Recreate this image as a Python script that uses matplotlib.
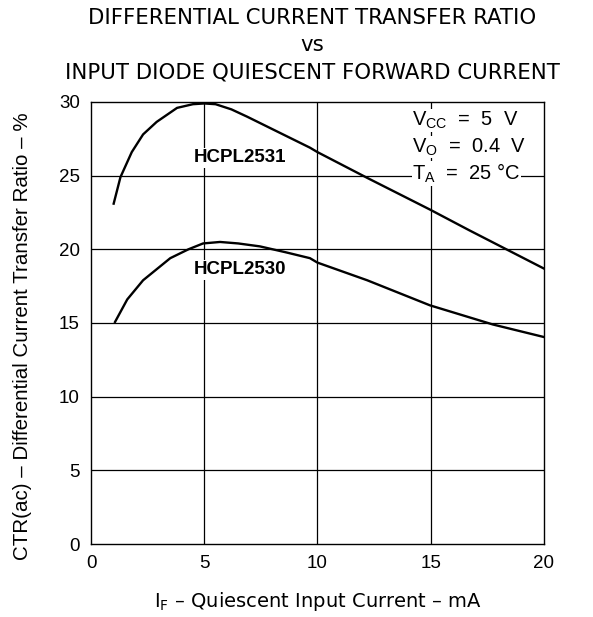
import matplotlib.pyplot as plt

plt.rcParams['font.family'] = ['Liberation Sans', 'DejaVu Sans']

# HCPL2531 curve points (IF in mA, CTR in %)
if_2531 = [1.0, 1.3, 1.8, 2.3, 2.9, 3.8, 4.5, 5.0, 5.5, 6.2, 6.9, 8.35, 9.67, 10.0, 12.2, 14.97, 16.7, 18.4, 20.0]
ctr_2531 = [23.1, 24.9, 26.6, 27.8, 28.65, 29.6, 29.85, 29.9, 29.85, 29.5, 29.0, 27.9, 26.9, 26.6, 24.85, 22.7, 21.3, 19.96, 18.7]

# HCPL2530 curve points
if_2530 = [1.06, 1.6, 2.3, 3.5, 4.3, 4.95, 5.7, 6.5, 7.46, 8.6, 9.67, 10.0, 12.2, 14.97, 17.75, 20.0]
ctr_2530 = [15.07, 16.6, 17.9, 19.4, 20.0, 20.4, 20.5, 20.4, 20.2, 19.8, 19.4, 19.1, 17.9, 16.2, 14.9, 14.05]

x_ticks = [0, 5, 10, 15, 20]
y_ticks = [0, 5, 10, 15, 20, 25, 30]

fig = plt.figure(figsize=(5.93, 6.17), dpi=100)
ax = fig.add_axes([0.1535, 0.1183, 0.7635, 0.7164])

# grid: horizontal at every tick, vertical at inner ticks
for y in y_ticks[1:-1]:
    ax.axhline(y, color='black', lw=0.9, zorder=1)
for x in x_ticks[1:-1]:
    ax.axvline(x, color='black', lw=0.9, zorder=1)

ax.plot(if_2531, ctr_2531, color='black', lw=1.7, zorder=3)
ax.plot(if_2530, ctr_2530, color='black', lw=1.7, zorder=3)

ax.text(6.6, 26.2, 'HCPL2531', fontsize=13.5, fontweight='bold', ha='center', va='center',
        bbox=dict(facecolor='white', edgecolor='none', pad=1), zorder=4)
ax.text(6.6, 18.6, 'HCPL2530', fontsize=13.5, fontweight='bold', ha='center', va='center',
        bbox=dict(facecolor='white', edgecolor='none', pad=1), zorder=4)

cond = [r'V$_{\mathregular{CC}}$  =  5  V', r'V$_{\mathregular{O}}$  =  0.4  V', r'T$_{\mathregular{A}}$  =  25 °C']
for i, s in enumerate(cond):
    ax.text(14.2, 28.75 - i * 1.8, s, fontsize=14.5, ha='left', va='center',
            bbox=dict(facecolor='white', edgecolor='none', pad=0.5), zorder=4)

ax.set_xlim(0, 20)
ax.set_ylim(0, 30)
ax.set_xticks(x_ticks)
ax.set_yticks(y_ticks)
ax.tick_params(length=0, labelsize=13.5, pad=8)
for sp in ax.spines.values():
    sp.set_linewidth(1.0)

ax.set_xlabel(r'I$_{\mathregular{F}}$ – Quiescent Input Current – mA', fontsize=14,
              family=['DejaVu Sans'], labelpad=13)
ax.set_ylabel('CTR(ac) – Differential Current Transfer Ratio – %', fontsize=14.8, labelpad=10)
ax.yaxis.set_label_coords(-0.13, 0.47)

title_font = dict(fontsize=15.3, ha='center', va='center', family=['DejaVu Sans'])
fig.text(0.527, 0.971, 'DIFFERENTIAL CURRENT TRANSFER RATIO', **title_font)
fig.text(0.527, 0.927, 'vs', **title_font)
fig.text(0.527, 0.882, 'INPUT DIODE QUIESCENT FORWARD CURRENT', **title_font)

fig.savefig('out.png', dpi=100)
